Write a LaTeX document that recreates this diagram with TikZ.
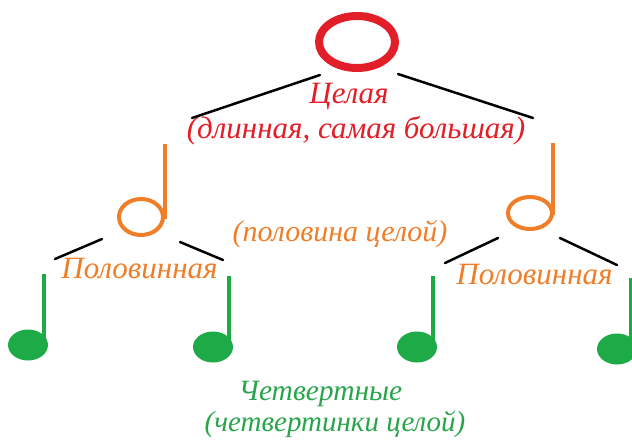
\documentclass[tikz,border=0pt]{standalone}
\usepackage{fontspec}
\setmainfont{Liberation Serif}
\definecolor{nred}{RGB}{226,30,40}
\definecolor{norange}{RGB}{240,125,40}
\definecolor{ngreen}{RGB}{30,170,70}
\definecolor{tgreen}{RGB}{40,165,75}
\tikzset{
  branch/.style={black, line width=2.5pt, line cap=round},
  lbl/.style={anchor=base, inner sep=0pt, font=\fontsize{#1}{#1}\selectfont\itshape},
  stemline/.style={line width=3.2pt},
}
\begin{document}
\begin{tikzpicture}[x=1pt,y=-1pt]
\useasboundingbox (0,0) rectangle (632,445);
% whole note
\coordinate (whole) at (357,42);
\draw[nred, line width=8pt] (whole) ellipse [x radius=38, y radius=26];
\node[lbl=31, text=nred] (t1) at (349,103) {Целая};
\node[lbl=31, text=nred] (t2) at (356,138) {(длинная, самая большая)};
% branches from whole
\coordinate (b1a) at (320,75); \coordinate (b1b) at (192,118);
\coordinate (b2a) at (398,74); \coordinate (b2b) at (533,118);
\draw[branch] (b1a) -- (b1b);
\draw[branch] (b2a) -- (b2b);
% half notes
\coordinate (hl) at (141,217);
\draw[norange, line width=4pt] (hl) ellipse [x radius=22, y radius=18];
\coordinate (hlt) at (165,144);
\draw[norange, stemline] (hlt) -- (165,219);
\coordinate (hr) at (530,213);
\draw[norange, line width=4pt] (hr) ellipse [x radius=22, y radius=16];
\coordinate (hrt) at (553,143);
\draw[norange, stemline] (hrt) -- (553,215);
\node[lbl=31, text=norange] (h1) at (139.5,278) {Половинная};
\node[lbl=31, text=norange] (h2) at (534.5,284) {Половинная};
\node[lbl=30, text=norange] (h3) at (340,241) {(половина целой)};
% branches from half notes
\coordinate (c1a) at (102,239); \coordinate (c1b) at (55,259);
\coordinate (c2a) at (180,242); \coordinate (c2b) at (223,260);
\coordinate (c3a) at (498,238); \coordinate (c3b) at (445,263);
\coordinate (c4a) at (560,238); \coordinate (c4b) at (617,265);
\draw[branch] (c1a) -- (c1b);
\draw[branch] (c2a) -- (c2b);
\draw[branch] (c3a) -- (c3b);
\draw[branch] (c4a) -- (c4b);
% quarter notes
\foreach \n/\x/\y/\s in {q1/28/345/44, q2/213/347/229, q3/417/347/433, q4/617/349/631}{
  \coordinate (\n) at (\x,\y);
  \fill[ngreen] (\n) ellipse [x radius=20, y radius=15.5];
  \draw[ngreen, stemline] (\s,{\y-71}) -- (\s,{\y-2});
}
\node[lbl=29.5, text=tgreen] (g1) at (320.5,400) {Четвертные};
\node[lbl=29, text=tgreen] (g2) at (335,431) {(четвертинки целой)};
\end{tikzpicture}
\end{document}
